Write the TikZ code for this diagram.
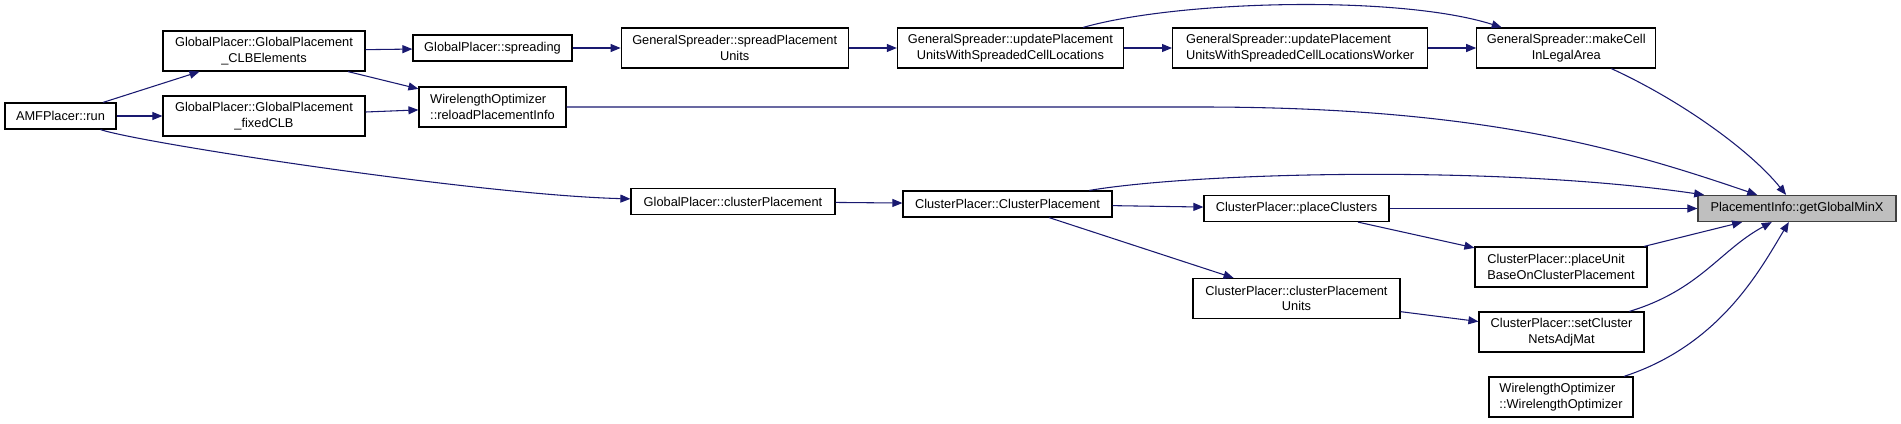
\documentclass[tikz,border=0pt]{standalone}
\usepackage{fontspec}
\setmainfont{Liberation Sans}
\usepackage{tikz}
\usetikzlibrary{positioning,arrows.meta}
\definecolor{edgeblue}{RGB}{25,25,112}
\definecolor{hilitegray}{RGB}{191,191,191}
\definecolor{hiliteborder}{RGB}{64,64,64}

\begin{document}
\begin{tikzpicture}[
    x=0.75pt,
    y=-0.75pt,
    box/.style={
        draw=black,
        line width=0.9pt,
        minimum height=30pt,
        inner sep=1pt,
        align=center,
        fill=white,
        font=\fontsize{9.6}{11.7}\selectfont
    },
    onerow/.style={minimum height=19.5pt},
    wd/.style={minimum width=#1*0.75pt},
    hilite/.style={fill=hilitegray, draw=hiliteborder},
    call/.style={->, draw=edgeblue, line width=0.8pt},
    >={Triangle[length=7.5pt,width=6pt]}
]

\useasboundingbox (0,0) rectangle (1901,424);

\node[box, onerow, wd=111] (run) at (60.5,116) {AMFPlacer::run};

\node[box, wd=202] (clb) at (264,51) {
    GlobalPlacer::GlobalPlacement\\
    \_CLBElements
};

\node[box, wd=202] (fixclb) at (264,116) {
    GlobalPlacer::GlobalPlacement\\
    \_fixedCLB
};

\node[box, onerow, wd=159] (spread) at (492.5,48) {GlobalPlacer::spreading};

\node[box, wd=147, align=left] (reload) at (492.5,107) {
    WirelengthOptimizer\\
    ::reloadPlacementInfo
};

\node[box, wd=227, right=36pt of spread] (spreadpu) {
    GeneralSpreader::spreadPlacement\\
    Units
};

\node[box, wd=226, right=36pt of spreadpu] (updpu) {
    GeneralSpreader::updatePlacement\\
    UnitsWithSpreadedCellLocations
};

\node[box, wd=255, align=left, right=36pt of updpu] (worker) {
    GeneralSpreader::updatePlacement\\
    UnitsWithSpreadedCellLocationsWorker
};

\node[box, wd=179, right=36pt of worker] (makecell) {
    GeneralSpreader::makeCell\\
    InLegalArea
};

\node[box, onerow, wd=198, hilite] (minx) at (1797,208.5) {PlacementInfo::getGlobalMinX};

\node[box, onerow, wd=204] (gpclus) at (733,201.5) {GlobalPlacer::clusterPlacement};

\node[box, onerow, wd=209] (cpclus) at (1007.5,204) {ClusterPlacer::ClusterPlacement};

\node[box, onerow, wd=185] (placecl) at (1296.5,208.5) {ClusterPlacer::placeClusters};

\node[box, wd=207] (cpunits) at (1296.5,298.5) {
    ClusterPlacer::clusterPlacement\\
    Units
};

\node[box, wd=172, align=left] (placeunit) at (1561,267) {
    ClusterPlacer::placeUnit\\
    BaseOnClusterPlacement
};

\node[box, wd=165] (setadj) at (1561.5,332) {
    ClusterPlacer::setCluster\\
    NetsAdjMat
};

\node[box, wd=144, align=left] (woctor) at (1561,397) {
    WirelengthOptimizer\\
    ::WirelengthOptimizer
};

\draw[call] (run) -- (clb);
\draw[call] (run) -- (fixclb);
\draw[call] (run) .. controls (140,143) and (480,195) .. (gpclus);
\draw[call] (clb) -- (spread);
\draw[call] (clb) -- (reload);
\draw[call] (fixclb) -- (reload);
\draw[call] (spread) -- (spreadpu);
\draw[call] (spreadpu) -- (updpu);
\draw[call] (updpu) -- (worker);
\draw[call] (worker) -- (makecell);
\draw[call] (updpu) .. controls (1180,0) and (1400,-5) .. (makecell);
\draw[call] (makecell) .. controls (1680,100) and (1750,150) .. (minx);
\draw[call] (reload) -- (1200,107) .. controls (1480,107) and (1620,148) .. (minx);
\draw[call] (gpclus) -- (cpclus);
\draw[call] (cpclus) .. controls (1200,172) and (1500,165) .. (minx);
\draw[call] (cpclus) -- (placecl);
\draw[call] (cpclus) -- (cpunits);
\draw[call] (placecl) -- (minx);
\draw[call] (placecl) -- (placeunit);
\draw[call] (placeunit) -- (minx);
\draw[call] (cpunits) -- (setadj);
\draw[call] (setadj) .. controls (1700,290) and (1720,250) .. (minx);
\draw[call] (woctor) .. controls (1720,345) and (1760,270) .. (minx);

\end{tikzpicture}
\end{document}
